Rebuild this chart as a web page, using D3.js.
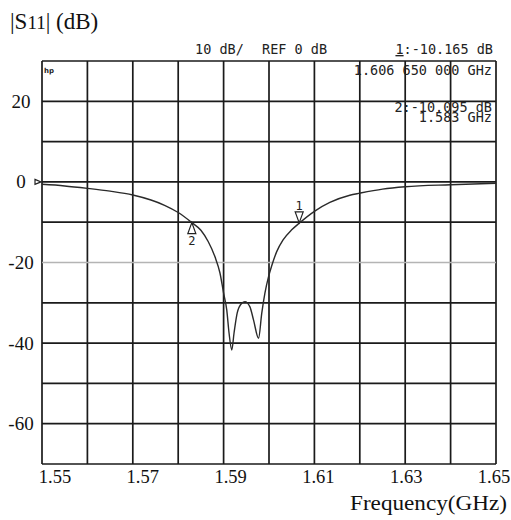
<!DOCTYPE html>
<html lang="en">
<head>
  <meta charset="UTF-8">
  <title>|S11| vs frequency</title>
  <style>
    body { margin: 0; background: #fff; }
    .serif { font-family: "Liberation Serif", "Times New Roman", serif; fill: #111; }
    .mono { font-family: "DejaVu Sans Mono", "Liberation Mono", monospace; fill: #222; }
  </style>
</head>
<body>
  <svg class="chart"></svg>
  <script src="https://cdn.jsdelivr.net/npm/d3@7/dist/d3.min.js"></script>
  <script>
    // trace (GHz, dB)
    var freq = [1.550, 1.555, 1.560, 1.565, 1.570, 1.574, 1.577, 1.580, 1.583, 1.585,
                1.5866, 1.5881, 1.5892, 1.5900, 1.5907, 1.5912, 1.5918, 1.5923, 1.5930, 1.5940,
                1.5947, 1.5958, 1.5966, 1.5977, 1.5984, 1.5991, 1.5999, 1.6006, 1.6017, 1.6031,
                1.6050, 1.6067, 1.6100, 1.6134, 1.6178, 1.6200, 1.6250, 1.6300, 1.6400, 1.6500];
    var s11 = [-0.6, -1.0, -1.6, -2.3, -3.25, -4.5, -5.8, -7.6, -10.1, -12.0,
               -14.8, -18.6, -22.6, -27.6, -31.8, -37.5, -41.7, -37.5, -32.5, -30.1,
               -29.7, -31.0, -34.3, -38.8, -32.6, -27.6, -23.5, -20.8, -17.3, -14.4,
               -11.9, -10.2, -7.3, -5.1, -3.3, -2.8, -1.8, -1.2, -0.7, -0.35];

    var xTicks = [1.55, 1.57, 1.59, 1.61, 1.63, 1.65];
    var yTicks = [20, 0, -20, -40, -60];

    var markerName = ["1", "2"];
    var markerFreq = [1.60665, 1.583];
    var markerDb = [-10.165, -10.095];

    var w = 511, h = 520,
        pLeft = 42, pRight = 496, pTop = 61, pBottom = 464;

    var svg = d3.select(".chart").attr("width", w).attr("height", h);

    var x = d3.scaleLinear().domain([1.55, 1.65]).range([pLeft, pRight]);
    var y = d3.scaleLinear().domain([-70, 30]).range([pBottom, pTop]);
    // the printed frequency labels sit slightly off the grid lines
    var xLab = d3.scaleLinear().domain([1.55, 1.65]).range([55, 494]);

    // grid, one line per division
    var gx = d3.range(11).map(i => 1.55 + i * 0.01);
    var gy = d3.range(11).map(i => -70 + i * 10);

    svg.selectAll("line.vg")
      .data(gx)
      .enter()
      .append("line")
        .attr("class", "vg")
        .attr("x1", d => x(d)).attr("x2", d => x(d))
        .attr("y1", pTop).attr("y2", pBottom)
        .attr("stroke", "#1a1a1a")
        .attr("stroke-width", 1.7);

    svg.selectAll("line.hg")
      .data(gy)
      .enter()
      .append("line")
        .attr("class", "hg")
        .attr("x1", pLeft).attr("x2", pRight)
        .attr("y1", d => y(d)).attr("y2", d => y(d))
        .attr("stroke", d => d == -20 ? "#b4b4b4" : "#1a1a1a")
        .attr("stroke-width", 1.7);

    // header texts
    svg.append("text").attr("class", "mono")
      .attr("x", 195).attr("y", 54).attr("font-size", 13.5)
      .text("10 dB/");
    svg.append("text").attr("class", "mono")
      .attr("x", 262).attr("y", 54).attr("font-size", 13.5)
      .text("REF 0 dB");
    var m1 = svg.append("text").attr("class", "mono")
      .attr("x", 493).attr("y", 54).attr("font-size", 13.5)
      .attr("text-anchor", "end");
    m1.append("tspan").attr("text-decoration", "underline").text("1");
    m1.append("tspan").text(":-10.165 dB");

    svg.append("text").attr("class", "mono")
      .attr("x", 492).attr("y", 75).attr("font-size", 13.5)
      .attr("text-anchor", "end")
      .text("1.606 650 000 GHz");
    svg.append("text").attr("class", "mono")
      .attr("x", 492).attr("y", 112).attr("font-size", 13.5)
      .attr("text-anchor", "end")
      .text("2:-10.095 dB");
    svg.append("text").attr("class", "mono")
      .attr("x", 492).attr("y", 122).attr("font-size", 13.5)
      .attr("text-anchor", "end")
      .text("1.583 GHz");

    svg.append("text")
      .attr("x", 44).attr("y", 73)
      .attr("font-family", "DejaVu Sans")
      .attr("font-weight", "bold")
      .attr("font-size", 7)
      .attr("fill", "#222")
      .text("hp");

    // reference level marker at the left edge
    svg.append("path")
      .attr("d", `M${pLeft - 7},${y(0) - 2.5} L${pLeft - 1},${y(0)} L${pLeft - 7},${y(0) + 2.5} Z`)
      .attr("fill", "none")
      .attr("stroke", "#222")
      .attr("stroke-width", 1.2);

    // the trace
    var line = d3.line()
      .x((d, i) => x(freq[i]))
      .y(d => y(d))
      .curve(d3.curveMonotoneX);

    svg.append("path")
      .datum(s11)
      .attr("d", line)
      .attr("fill", "none")
      .attr("stroke", "#2a2a2a")
      .attr("stroke-width", 1.4);

    // markers: 1 points down onto the trace, 2 points up
    markerName.forEach((name, i) => {
      var mx = x(markerFreq[i]), my = y(markerDb[i]);
      var s = name == "1" ? -1 : 1;
      svg.append("path")
        .attr("d", `M${mx},${my} L${mx - 4},${my + s * 11} L${mx + 4},${my + s * 11} Z`)
        .attr("fill", "#fff")
        .attr("stroke", "#222")
        .attr("stroke-width", 1.2);
      svg.append("text").attr("class", "mono")
        .attr("x", mx).attr("y", name == "1" ? my - 13 : my + 22)
        .attr("font-size", 12)
        .attr("text-anchor", "middle")
        .text(name);
    });

    // axis labels
    svg.selectAll("text.yl")
      .data(yTicks)
      .enter()
      .append("text")
        .attr("class", "serif yl")
        .attr("x", 21)
        .attr("y", d => y(d))
        .attr("dy", "0.34em")
        .attr("text-anchor", "middle")
        .attr("font-size", 19)
        .text(d => d);

    svg.selectAll("text.xl")
      .data(xTicks)
      .enter()
      .append("text")
        .attr("class", "serif xl")
        .attr("x", d => xLab(d))
        .attr("y", 483)
        .attr("text-anchor", "middle")
        .attr("font-size", 18.5)
        .text(d => d.toFixed(2));

    var title = svg.append("text").attr("class", "serif")
      .attr("x", 10).attr("y", 29).attr("font-size", 23);
    title.append("tspan").text("|S");
    title.append("tspan").attr("font-size", 19).text("11");
    title.append("tspan").text("| (dB)");

    svg.append("text").attr("class", "serif")
      .attr("x", 507).attr("y", 510)
      .attr("text-anchor", "end")
      .attr("font-size", 20)
      .attr("textLength", 157)
      .attr("lengthAdjust", "spacingAndGlyphs")
      .text("Frequency(GHz)");
  </script>
</body>
</html>
